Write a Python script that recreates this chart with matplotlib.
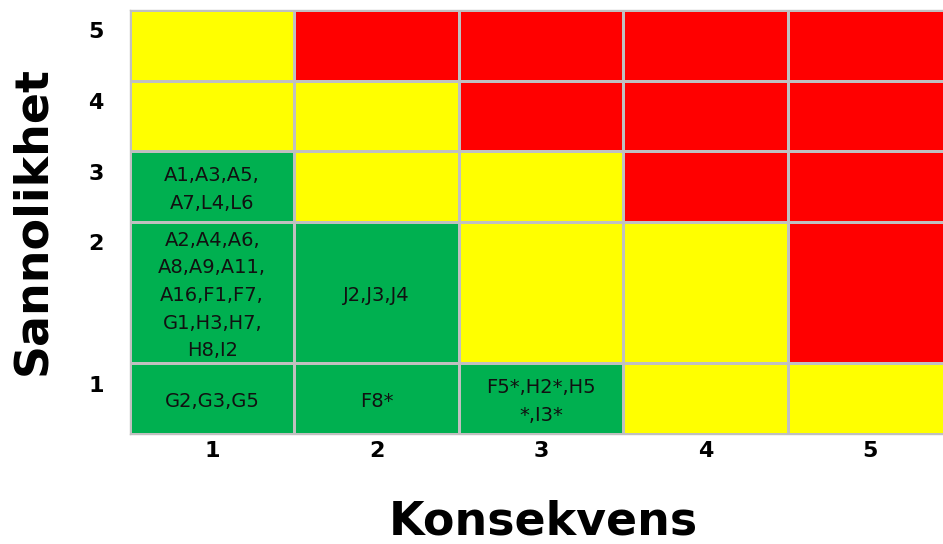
"""
Risk matrix: Sannolikhet vs Konsekvens
"""

import matplotlib
matplotlib.use("Agg")
import matplotlib.pyplot as plt
import numpy as np
from matplotlib.colors import ListedColormap

# axis categories
konsekvens = ["1", "2", "3", "4", "5"]
sannolikhet = ["1", "2", "3", "4", "5"]

# relative row heights (row 2 is double height in the original table)
row_heights = [1, 2, 1, 1, 1]

# risk level per cell, rows = sannolikhet 1..5, cols = konsekvens 1..5
# 0 = green, 1 = yellow, 2 = red
risk_level = [
    [0, 0, 0, 1, 1],
    [0, 0, 1, 1, 2],
    [0, 1, 1, 2, 2],
    [1, 1, 2, 2, 2],
    [1, 2, 2, 2, 2],
]

# activity codes placed in cells: (sannolikhet, konsekvens) -> text
cell_text = {
    (3, 1): "A1,A3,A5,\nA7,L4,L6",
    (2, 1): "A2,A4,A6,\nA8,A9,A11,\nA16,F1,F7,\nG1,H3,H7,\nH8,I2",
    (2, 2): "J2,J3,J4",
    (1, 1): "G2,G3,G5",
    (1, 2): "F8*",
    (1, 3): "F5*,H2*,H5\n*,I3*",
}

colors = ["#00B050", "#FFFF00", "#FF0000"]


def plot_risk_matrix():
    W, H = 943, 544
    fig = plt.figure(figsize=(W / 100, H / 100), dpi=100)
    ax = fig.add_axes([130 / W, 110 / H, 822 / W, 424 / H])

    x_edges = np.arange(len(konsekvens) + 1)
    y_edges = np.concatenate([[0], np.cumsum(row_heights)])

    ax.pcolormesh(x_edges, y_edges, np.array(risk_level),
                  cmap=ListedColormap(colors), vmin=-0.5, vmax=2.5,
                  edgecolors="#C0C0C0", linewidth=1.0)

    x_mid = (x_edges[:-1] + x_edges[1:]) / 2
    y_mid = (y_edges[:-1] + y_edges[1:]) / 2
    for (s, k), txt in cell_text.items():
        ax.text(x_mid[k - 1], y_mid[s - 1] - 0.04, txt, ha="center", va="center",
                fontsize=14, color="#111111", linespacing=1.58)

    ax.set_xlim(x_edges[0], x_edges[-1])
    ax.set_ylim(y_edges[0], y_edges[-1])

    ax.set_xticks(x_mid)
    ax.set_xticklabels(konsekvens, fontsize=16, fontweight="bold")
    # labels sit near the top of each row
    ax.set_yticks(y_edges[1:] - 0.29)
    ax.set_yticklabels(sannolikhet, fontsize=16, fontweight="bold")
    ax.tick_params(axis="x", length=0, pad=5)
    ax.tick_params(axis="y", length=0, pad=19)

    for sp in ax.spines.values():
        sp.set_color("#C0C0C0")
        sp.set_linewidth(1.0)

    fig.text(33 / W, 1 - 221 / H, "Sannolikhet", rotation=90, ha="center",
             va="center", fontsize=33, fontweight="bold")
    fig.text(543 / W, 1 - 522 / H, "Konsekvens", ha="center", va="center",
             fontsize=33, fontweight="bold")

    fig.savefig("out.png", dpi=100)


if __name__ == "__main__":
    plot_risk_matrix()
